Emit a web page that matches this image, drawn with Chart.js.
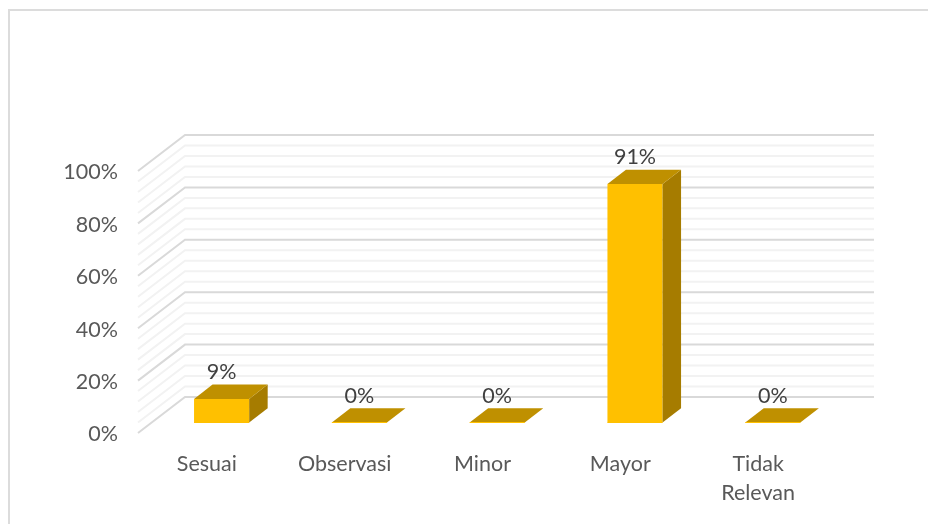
<!DOCTYPE html>
<html>
<head>
<meta charset="utf-8">
<script src="https://cdn.jsdelivr.net/npm/chart.js@4"></script>
<style>
    html, body { margin: 0; padding: 0; background: #fff; }
    #wrap { position: absolute; left: 0; top: 0; width: 928px; height: 524px; overflow: hidden; }
    #frame { position: absolute; left: 8px; top: 9px; width: 930px; height: 530px; border: 2px solid #dcdcdc; box-sizing: border-box; }
    canvas { position: absolute; left: 0; top: 0; }
</style>
</head>
<body>
<div id="wrap">
    <div id="frame"></div>
    <canvas id="plot" width="928" height="524"></canvas>
</div>
<script>
/* global Chart */

const categories = ["Sesuai", "Observasi", "Minor", "Mayor", ["Tidak", "Relevan"]];
const percentValues = [9, 0, 0, 91, 0];
const valueLabels = ["9%", "0%", "0%", "91%", "0%"];

const faceColor = "#ffc000";
const topColor = "#bf9000";
const sideColor = "#a67c00";

// wall depth and bar depth in pixels, the picture is a fake 3d projection
const wallDx = 47, wallDy = -36;
const lift = -1.5;    // axis labels sit a bit lower than the lines they belong to
const barShiftX = 14.7, barShiftY = -10.5 + lift;
const barDx = 18.5, barDy = -14.3;

function poly(ctx, pts, color) {
    ctx.beginPath();
    ctx.moveTo(pts[0][0], pts[0][1]);
    pts.slice(1).forEach(p => ctx.lineTo(p[0], p[1]));
    ctx.closePath();
    ctx.fillStyle = color;
    ctx.fill();
}

const walls = {
    id: "walls",
    beforeDatasetsDraw(chart) {
        let ctx = chart.ctx;
        let y = chart.scales.y;
        let area = chart.chartArea;
        let ticks = y.ticks.slice().sort((a, b) => (a.value % 20 === 0) - (b.value % 20 === 0));
        ctx.save();
        ticks.forEach(t => {
            let py = y.getPixelForValue(t.value) + lift;
            ctx.beginPath();
            ctx.moveTo(area.left, py);
            ctx.lineTo(area.left + wallDx, py + wallDy);
            ctx.lineTo(area.right + wallDx, py + wallDy);
            ctx.strokeStyle = t.value % 20 === 0 ? "#d9d9d9" : "#f2f2f2";
            ctx.lineWidth = 2;
            ctx.stroke();
        });
        ctx.restore();
        // bars stand a little behind the front edge
        ctx.save();
        ctx.translate(barShiftX, barShiftY);
    },
    afterDatasetsDraw(chart) {
        let ctx = chart.ctx;
        let bars = chart.getDatasetMeta(0).data;
        bars.forEach((bar, i) => {
            let l = bar.x - bar.width / 2;
            let r = bar.x + bar.width / 2;
            let top = bar.y;
            let base = bar.base;
            poly(ctx, [[r, top], [r + barDx, top + barDy], [r + barDx, base + barDy], [r, base]], sideColor);
            poly(ctx, [[l, top], [l + barDx, top + barDy], [r + barDx, top + barDy], [r, top]], topColor);
            // flat bars still show a thin front edge
            ctx.fillStyle = faceColor;
            ctx.fillRect(l, base - 0.5, r - l, 1);
            ctx.fillStyle = "#404040";
            ctx.font = "21.5px Lato";
            ctx.textAlign = "center";
            ctx.textBaseline = "middle";
            ctx.fillText(valueLabels[i], bar.x, top + barDy - 12.5);
        });
        ctx.restore();
    }
};

new Chart("plot", {
    type: "bar",
    data: {
        labels: categories,
        datasets: [{
            data: percentValues,
            backgroundColor: faceColor,
            borderWidth: 0,
            barPercentage: 0.4,
            categoryPercentage: 1,
            clip: false
        }]
    },
    options: {
        responsive: false,
        animation: false,
        layout: { padding: { left: 0, top: 172.5, right: 101, bottom: 0 } },
        plugins: { legend: { display: false }, tooltip: { enabled: false } },
        scales: {
            x: {
                grid: { display: false },
                border: { display: false },
                ticks: {
                    color: "#595959",
                    font: { family: "Lato", size: 21.5, lineHeight: 1.35 },
                    padding: 7,
                    maxRotation: 0,
                    autoSkip: false
                },
                afterFit: s => { s.height = 89.5; }
            },
            y: {
                min: 0,
                max: 100,
                grid: { display: false },
                border: { display: false },
                ticks: {
                    stepSize: 4,
                    autoSkip: false,
                    color: "#595959",
                    font: { family: "Lato", size: 21.5 },
                    padding: 12,
                    callback: v => v % 20 === 0 ? v + "%" : ""
                },
                afterFit: s => { s.width = 138; }
            }
        }
    },
    plugins: [walls]
});
</script>
</body>
</html>
